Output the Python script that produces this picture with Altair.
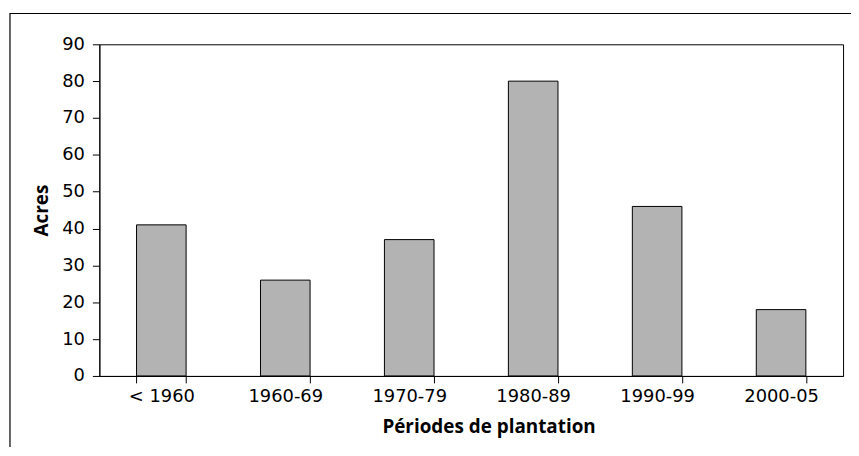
import altair as alt
import pandas as pd

periods = ["< 1960", "1960-69", "1970-79", "1980-89", "1990-99", "2000-05"]
acres = [41, 26, 37, 80, 46, 18]

df = pd.DataFrame({"period": periods, "acres": acres})

LABEL_FONT = "DejaVu Sans"
TITLE_FONT = "Open Sans"

bars = alt.Chart(df).mark_bar(
    color="#b3b3b3", stroke="#000000", strokeWidth=1
).encode(
    x=alt.X(
        "period:N",
        sort=periods,
        scale=alt.Scale(paddingInner=0.6, paddingOuter=0.3),
        axis=alt.Axis(
            title="Périodes de plantation",
            labelAngle=0,
            tickBand="extent",
            tickSize=7,
            labelPadding=5,
            titleX=392,
            titleY=57,
            titleAlign="center",
            titleBaseline="alphabetic",
        ),
    ),
    y=alt.Y(
        "acres:Q",
        scale=alt.Scale(domain=[0, 90], nice=False),
        axis=alt.Axis(
            title="Acres",
            values=list(range(0, 91, 10)),
            tickSize=7,
            labelPadding=8,
            grid=False,
            titleX=-58,
            titleY=167,
            titleAlign="center",
            titleBaseline="middle",
        ),
    ),
)

frame = alt.Chart(alt.Data(values=[{}])).mark_rect(
    fill=None, stroke="#000000", strokeWidth=1.2, clip=False
).encode(
    x=alt.value(-90),
    x2=alt.value(900),
    y=alt.value(-31),
    y2=alt.value(500),
)

chart = alt.layer(bars, frame).properties(
    width=749,
    height=334,
    autosize=alt.AutoSizeParams(type="none"),
    padding={"left": 92, "top": 35, "right": 8, "bottom": 70},
    background="white",
).configure_view(
    stroke="#000000", strokeWidth=1
).configure_axis(
    domainColor="#000000",
    tickColor="#000000",
    labelColor="#000000",
    titleColor="#000000",
    labelFont=LABEL_FONT,
    titleFont=TITLE_FONT,
    labelFontSize=18,
    titleFontSize=19,
    titleFontWeight="bold",
    domainWidth=1,
    tickWidth=1,
)

chart.save("out.html", embed_options={"renderer": "svg", "actions": False})
